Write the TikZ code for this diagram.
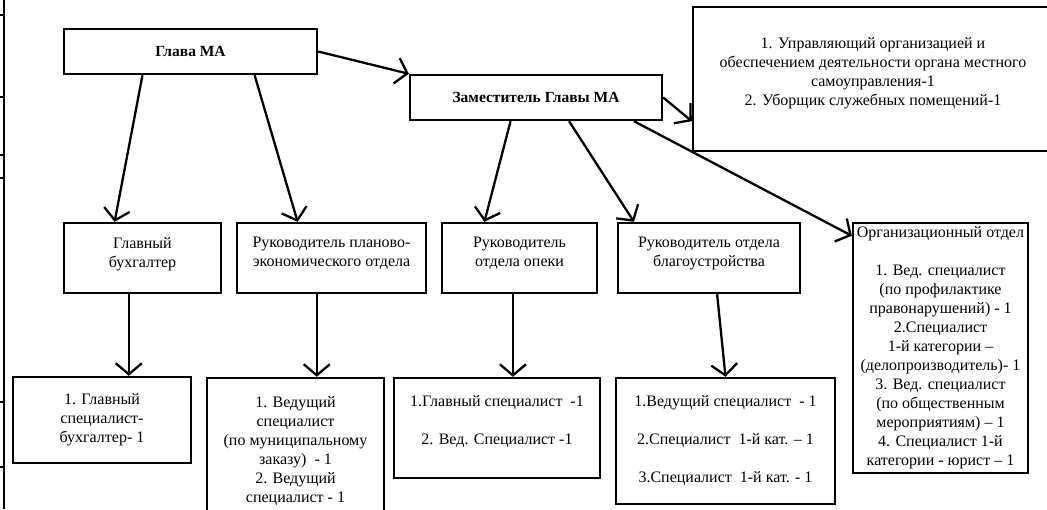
\documentclass[tikz,border=0pt]{standalone}
\usepackage{fontspec}
\setmainfont{Liberation Serif}
\usetikzlibrary{arrows.meta,calc}
\begin{document}
\begin{tikzpicture}[x=1pt,y=-1pt,
  box/.style={draw,line width=2.4pt,align=center,inner sep=0pt,font=\fontsize{16}{19}\selectfont},
  bold/.style={font=\fontsize{15.5}{18}\selectfont\bfseries},
  arr/.style={line width=2.3pt,-{Straight Barb[length=11pt,width=26pt]}},
  edge/.style={line width=2pt},
]
\useasboundingbox (0,0) rectangle (1047,509);
\clip (0,0) rectangle (1047,509);

% left edge fragment
\draw[edge] (4,0) -- (4,509);
\foreach \t in {15,97,155,178,402,467} \draw[edge] (0,\t) -- (4,\t);

% top level
\node[box,bold,minimum width=253pt,minimum height=45pt] (glava) at (190.5,51.5) {Глава МА};
\node[box,bold,minimum width=252pt,minimum height=45pt] (zam) at (536,97.5) {Заместитель Главы МА};
\node[box,minimum width=360pt,minimum height=144pt] (uprav) at (873,79) {1. Управляющий организацией и\\обеспечением деятельности органа местного\\самоуправления-1\\2. Уборщик служебных помещений-1\\[-10pt]\strut};

% second level
\node[box,minimum width=157pt,minimum height=70pt] (buh) at (142.5,258) {Главный\\бухгалтер\\[-13pt]\strut};
\node[box,minimum width=189pt,minimum height=70pt] (plan) at (331.5,258) {Руководитель планово-\\экономического отдела\\[-13pt]\strut};
\node[box,minimum width=155pt,minimum height=70pt] (opeka) at (519.5,258) {Руководитель\\отдела опеки\\[-13pt]\strut};
\node[box,minimum width=182pt,minimum height=70pt] (blago) at (709,258) {Руководитель отдела\\благоустройства\\[-13pt]\strut};
\node[box,minimum width=175pt,minimum height=250pt] (org) at (940.5,348) {Организационный отдел\\[19pt]1. Вед. специалист\\(по профилактике\\правонарушений) - 1\\2.Специалист\\1-й категории –\\(делопроизводитель)- 1\\3. Вед. специалист\\(по общественным\\мероприятиям) – 1\\4. Специалист 1-й\\категории - юрист – 1};

% third level
\node[box,minimum width=178pt,minimum height=86pt] (b3a) at (102,420) {1. Главный\\специалист-\\бухгалтер- 1};
\node[box,minimum width=177pt,minimum height=147pt] (b3b) at (295.5,451.5) {1. Ведущий\\специалист\\(по муниципальному\\заказу)\ \ - 1\\2. Ведущий\\специалист - 1};
\node[box,minimum width=206pt,minimum height=100pt] (b3c) at (497,428) {1.Главный специалист\ \ -1\\[19pt]2. Вед. Специалист -1\\[-8pt]\strut};
\node[box,minimum width=219pt,minimum height=126pt] (b3d) at (725.5,441) {1.Ведущий специалист\ \ - 1\\[19pt]2.Специалист\ \ 1-й кат. – 1\\[19pt]3.Специалист\ \ 1-й кат. - 1};

% connectors
\draw[arr] (glava.east) -- (zam.north west);
\draw[arr] (zam.east) -- (uprav.west |- zam.south);
\draw[arr] ($(glava.south west)!0.312!(glava.south east)$) -- ($(buh.north west)!0.325!(buh.north east)$);
\draw[arr] ($(glava.south west)!0.751!(glava.south east)$) -- ($(plan.north west)!0.323!(plan.north east)$);
\draw[arr] ($(zam.south west)!0.40!(zam.south east)$) -- ($(opeka.north west)!0.277!(opeka.north east)$);
\draw[arr] ($(zam.south west)!0.63!(zam.south east)$) -- ($(blago.north west)!0.093!(blago.north east)$);
\draw[arr] ($(zam.south west)!0.885!(zam.south east)$) -- ($(org.north west)+(0,14)$);

\coordinate (pa) at ($(buh.south west)!0.414!(buh.south east)$);
\draw[arr] (pa) -- (pa |- b3a.north);
\coordinate (pb) at ($(plan.south west)!0.423!(plan.south east)$);
\draw[arr] (pb) -- (pb |- b3b.north);
\coordinate (pc) at ($(opeka.south west)!0.458!(opeka.south east)$);
\draw[arr] (pc) -- (pc |- b3c.north);
\draw[arr] ($(blago.south west)!0.544!(blago.south east)$) -- (b3d.north);
\end{tikzpicture}
\end{document}
